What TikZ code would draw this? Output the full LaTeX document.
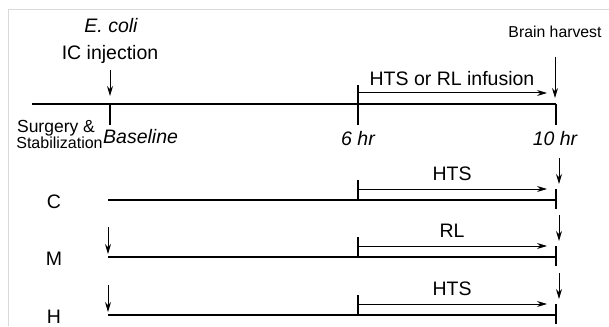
\documentclass[tikz,border=0pt]{standalone}
\usepackage{fontspec}
\setmainfont{Liberation Sans}
\usetikzlibrary{arrows.meta}
\begin{document}
\begin{tikzpicture}[x=1pt,y=-1pt,
  thick line/.style={line width=2.9pt},
  thin arrow/.style={line width=1pt,-{Stealth[length=10pt,width=6pt]}},
  big/.style={font=\fontsize{19.5}{22}\selectfont,inner sep=0pt,anchor=base},
  bigit/.style={font=\fontsize{19.5}{22}\selectfont\itshape,inner sep=0pt,anchor=base},
  frame/.style={draw=black!15,line width=1pt}]
\useasboundingbox (0,0) rectangle (609,326);
\coordinate (f1) at (609,10);
\coordinate (f2) at (8,10);
\coordinate (f3) at (8,326);
\draw[frame] (f1) -- (f2) -- (f3);
% main timeline
\coordinate (t0) at (32,104);
\coordinate (tb) at (110,104);
\coordinate (tbd) at (110,125);
\coordinate (t6) at (358,104);
\coordinate (t6u) at (358,85);
\coordinate (t6d) at (358,125);
\coordinate (t10) at (556,104);
\coordinate (t10d) at (556,125);
\draw[thick line] (t0) -- (t10);
\draw[thick line] (tb) -- (tbd);
\draw[thick line] (t6u) -- (t6d);
\draw[thick line] (t10) -- (t10d);
\coordinate (ia) at (358,93);
\coordinate (ib) at (547,93);
\draw[thin arrow] (ia) -- (ib);
\node[big] (inf) at (452,86) {HTS or RL infusion};
\node[font=\fontsize{15.8}{18}\selectfont,inner sep=0pt,anchor=base] (bh) at (555,38) {Brain harvest};
\coordinate (bha) at (555,57);
\coordinate (bhb) at (555,98);
\draw[thin arrow] (bha) -- (bhb);
\node[bigit] (ecoli) at (111,33) {E. coli};
\node[big] (ic) at (110,60) {IC injection};
\coordinate (ica) at (110,70);
\coordinate (icb) at (110,96);
\draw[thin arrow] (ica) -- (icb);
\node[font=\fontsize{17.5}{20}\selectfont,inner sep=0pt,anchor=base] (surg) at (56,132) {Surgery \&};
\node[font=\fontsize{16}{19}\selectfont,inner sep=0pt,anchor=base] (stab) at (59.5,148) {Stabilization};
\node[bigit,anchor=base west] (base) at (103,143) {Baseline};
\node[bigit] (h6) at (358,145) {6 hr};
\node[bigit] (h10) at (555,145) {10 hr};
% groups
\foreach \r/\g/\lab/\inj in {200/C/HTS/0,257/M/RL/1,315/H/HTS/1}{
  \coordinate (\g s) at (108,\r);
  \coordinate (\g e) at (556,\r);
  \coordinate (\g tu) at (358,\r-20);
  \coordinate (\g td) at (358,\r);
  \coordinate (\g aa) at (358,\r-11);
  \coordinate (\g ab) at (547,\r-11);
  \coordinate (\g eu) at (556,\r-11);
  \coordinate (\g ed) at (556,\r+9);
  \coordinate (\g ha) at (559,\r-42);
  \coordinate (\g hb) at (559,\r-16);
  \draw[thick line] (\g s) -- (\g e);
  \draw[thick line] (\g tu) -- (\g td);
  \draw[thick line] (\g eu) -- (\g ed);
  \draw[thin arrow] (\g aa) -- (\g ab);
  \draw[thin arrow] (\g ha) -- (\g hb);
  \node[font=\fontsize{19.5}{22}\selectfont,inner sep=0pt,anchor=base] (\g lab) at (452,\r-20) {\lab};
  \node[font=\fontsize{19.5}{22}\selectfont,inner sep=0pt,anchor=base] (\g name) at (54,\r+8) {\g};
  \ifnum\inj=1
    \coordinate (\g ia) at (108,\r-30);
    \coordinate (\g ib) at (108,\r-3);
    \draw[thin arrow] (\g ia) -- (\g ib);
  \fi
}
\end{tikzpicture}
\end{document}
